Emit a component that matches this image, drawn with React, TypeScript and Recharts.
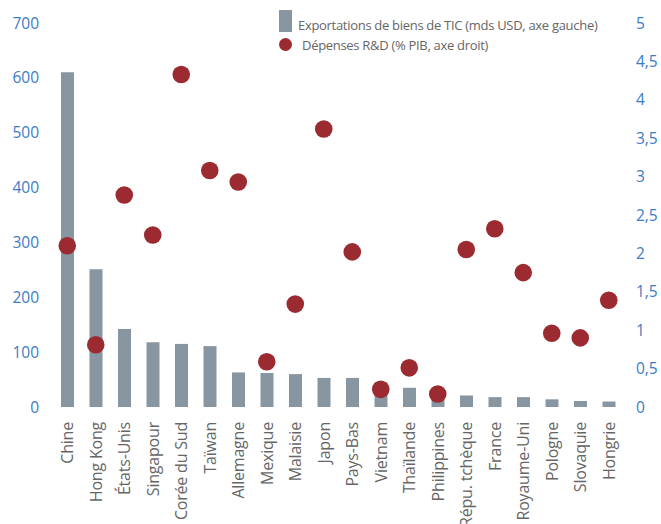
import { ComposedChart, Bar, Scatter, XAxis, YAxis } from "recharts";

const countries = [
  "Chine", "Hong Kong", "États-Unis", "Singapour", "Corée du Sud", "Taïwan",
  "Allemagne", "Mexique", "Malaisie", "Japon", "Pays-Bas", "Vietnam",
  "Thaïlande", "Philippines", "Répu. tchèque", "France", "Royaume-Uni",
  "Pologne", "Slovaquie", "Hongrie",
];
const exportsTic = [610, 251, 142, 118, 115, 111, 63, 62, 60, 53, 53, 45, 35, 12, 21, 18, 18, 14, 11, 10];
const rdSpending = [2.1, 0.81, 2.76, 2.24, 4.33, 3.08, 2.93, 0.59, 1.34, 3.62, 2.02, 0.23, 0.51, 0.17, 2.05, 2.32, 1.75, 0.96, 0.9, 1.39];

const leftTicks = [0, 100, 200, 300, 400, 500, 600, 700];
const rightTicks = [0, 0.5, 1, 1.5, 2, 2.5, 3, 3.5, 4, 4.5, 5];

const data = countries.map((name, i) => ({
  name,
  exports: exportsTic[i],
  rd: rdSpending[i],
}));

const FONT = "'Open Sans', sans-serif";
const BAR = "#8796a1";
const DOT = "#9b2b30";
const AXIS_BLUE = "#3b7cc4";
const GREY = "#666666";

const Dot = (props: any) => {
  const { cx, cy } = props;
  if (cx == null || cy == null) return null;
  return <circle cx={cx} cy={cy} r={8.8} fill={DOT} />;
};

const CategoryTick = (props: any) => {
  const { x, y, payload } = props;
  return (
    <text
      x={x}
      y={y}
      transform={`rotate(-90, ${x}, ${y})`}
      textAnchor="end"
      dominantBaseline="central"
      fill={GREY}
      fontSize={16}
      letterSpacing={-0.2}
      fontFamily={FONT}
    >
      {payload.value}
    </text>
  );
};

// legend sits over the chart without pushing the plot area down
const LegendBox = () => (
  <div
    style={{
      position: "absolute",
      left: 279,
      top: 10,
      width: 360,
      height: 50,
      fontFamily: FONT,
      fontSize: 13,
      color: GREY,
      letterSpacing: -0.3,
    }}
  >
    <div style={{ position: "absolute", left: 0, top: 0, width: 13, height: 22, background: BAR }} />
    <div style={{ position: "absolute", left: 19, top: 6, whiteSpace: "nowrap" }}>
      Exportations de biens de TIC (mds USD, axe gauche)
    </div>
    <div style={{ position: "absolute", left: 0, top: 28, width: 13, height: 13, borderRadius: "50%", background: DOT }} />
    <div style={{ position: "absolute", left: 23, top: 26, whiteSpace: "nowrap" }}>
      Dépenses R&amp;D (% PIB, axe droit)
    </div>
  </div>
);

export default function App() {
  return (
    <div style={{ position: "absolute", left: 0, top: 0, width: 661, height: 524, background: "#fff" }}>
      <ComposedChart
        width={661}
        height={524}
        data={data}
        margin={{ top: 23, right: 0, bottom: 0, left: 0 }}
        barCategoryGap={0}
      >
        <XAxis
          dataKey="name"
          interval={0}
          axisLine={false}
          tickLine={false}
          height={117}
          tick={<CategoryTick />}
          tickMargin={9}
        />
        <YAxis
          yAxisId="left"
          orientation="left"
          width={53}
          domain={[0, 700]}
          ticks={leftTicks}
          axisLine={false}
          tickLine={false}
          tickMargin={8}
          tick={{ fill: AXIS_BLUE, fontSize: 15.5, fontFamily: FONT }}
        />
        <YAxis
          yAxisId="right"
          orientation="right"
          width={38}
          domain={[0, 5]}
          ticks={rightTicks}
          axisLine={false}
          tickLine={false}
          tickMargin={7}
          tickFormatter={(v: number) => String(v).replace(".", ",")}
          tick={{ fill: AXIS_BLUE, fontSize: 15.5, fontFamily: FONT }}
        />
        <Bar
          yAxisId="left"
          dataKey="exports"
          fill={BAR}
          barSize={13}
          isAnimationActive={false}
        />
        <Scatter
          yAxisId="right"
          dataKey="rd"
          shape={<Dot />}
          isAnimationActive={false}
        />
      </ComposedChart>
      <LegendBox />
    </div>
  );
}
